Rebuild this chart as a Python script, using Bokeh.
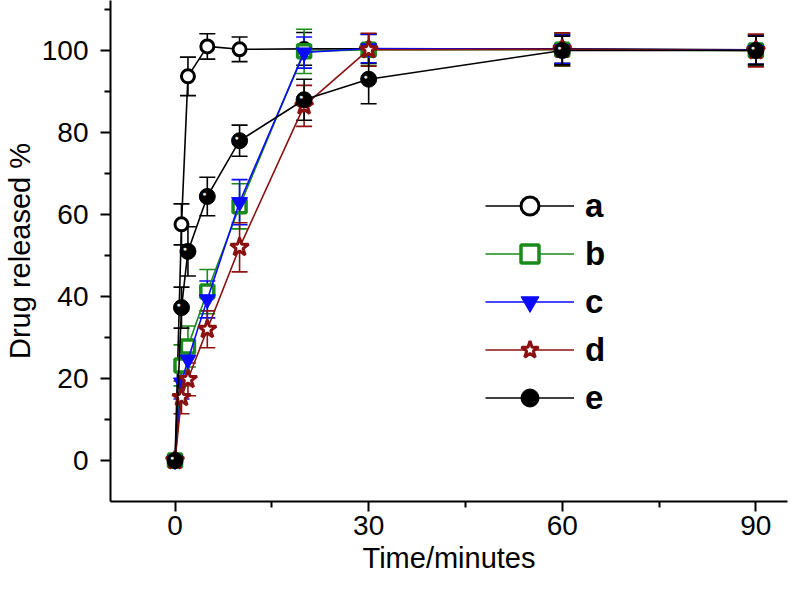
from bokeh.plotting import figure
from bokeh.models import (ColumnDataSource, Range1d, FixedTicker, Whisker, TeeHead,
                          Legend, LegendItem)
from bokeh.embed import file_html
from bokeh.resources import INLINE
from bokeh.core.properties import value

# ---- data ----
time_min = [0, 1, 2, 5, 10, 20, 30, 60, 90]
a_vals = [0, 57.6, 93.7, 101.0, 100.3, 100.4, 100.4, 100.4, 100.2]
a_err = [0, 5.0, 4.7, 3.1, 3.0, 4.0, 3.5, 3.5, 3.5]
b_vals = [0, 23.2, 27.8, 41.2, 62.0, 99.8, 100.2, 100.2, 100.0]
b_err = [0, 5.0, 5.0, 5.4, 5.5, 5.4, 3.8, 4.0, 3.8]
c_vals = [0, 19.0, 24.6, 39.3, 63.0, 99.5, 100.5, 100.3, 100.1]
c_err = [0, 4.0, 4.5, 4.5, 5.5, 3.8, 3.5, 3.5, 3.5]
d_vals = [0, 15.4, 19.8, 32.0, 52.0, 86.5, 100.2, 100.3, 100.0]
d_err = [0, 4.0, 4.0, 4.5, 6.0, 5.0, 4.0, 4.0, 4.0]
e_vals = [0, 37.3, 51.0, 64.4, 78.0, 88.0, 93.0, 100.0, 100.0]
e_err = [0, 5.0, 6.0, 4.7, 3.8, 5.0, 6.0, 3.5, 3.5]

x_ticks = [0, 30, 60, 90]
x_minor = [15, 45, 75]
y_ticks = [0, 20, 40, 60, 80, 100]
y_minor = [10, 30, 50, 70, 90, 110]

FONT = "Liberation Sans"

p = figure(width=790, height=584, output_backend="svg", toolbar_location=None,
           x_range=Range1d(-10, 94.9), y_range=Range1d(-10, 112.2),
           min_border_left=106, min_border_right=3, min_border_top=0,
           min_border_bottom=83)
p.outline_line_color = None
p.grid.visible = False
p.background_fill_color = "white"

for ax in (p.xaxis[0], p.yaxis[0]):
    ax.axis_line_width = 2
    ax.axis_line_color = "black"
    ax.major_tick_line_width = 2
    ax.minor_tick_line_width = 2
    ax.major_tick_in = 0
    ax.major_tick_out = 10
    ax.minor_tick_in = 0
    ax.minor_tick_out = 6
    ax.major_label_text_font = FONT
    ax.major_label_text_font_size = "28px"
    ax.major_label_text_color = "black"
    ax.axis_label_text_font = FONT
    ax.axis_label_text_font_size = "29px"
    ax.axis_label_text_font_style = "normal"
    ax.axis_label_text_color = "black"

p.xaxis.ticker = FixedTicker(ticks=x_ticks, minor_ticks=x_minor)
p.yaxis.ticker = FixedTicker(ticks=y_ticks, minor_ticks=y_minor)
p.xaxis.axis_label = "Time/minutes"
p.yaxis.axis_label = "Drug released %"
p.xaxis.major_label_standoff = 4
p.yaxis.major_label_standoff = 12
p.xaxis.axis_label_standoff = 4
p.yaxis.axis_label_standoff = 3

series = [
    ("a", a_vals, a_err, "black", "circle", "white", 13, 3.0),
    ("b", b_vals, b_err, "#1a8a1a", "square", "white", 13, 3.5),
    ("c", c_vals, c_err, "#0a0aff", "inverted_triangle", "#0a0aff", 16, 1.0),
    ("d", d_vals, d_err, "#8b1010", "star", "white", 19, 3.0),
    ("e", e_vals, e_err, "black", "circle", "black", 16, 1.0),
]

items = []
for name, vals, errs, col, mk, fill, size, lw in series:
    src = ColumnDataSource(dict(x=time_min, y=vals))
    keep = [i for i, e in enumerate(errs) if e > 0]
    err_src = ColumnDataSource(dict(
        x=[time_min[i] for i in keep],
        upper=[vals[i] + errs[i] for i in keep],
        lower=[vals[i] - errs[i] for i in keep]))
    ln = p.line("x", "y", source=src, line_color=col, line_width=1.6)
    w = Whisker(source=err_src, base="x", upper="upper", lower="lower",
                line_color=col, line_width=1.6,
                upper_head=TeeHead(size=16, line_color=col, line_width=1.6),
                lower_head=TeeHead(size=16, line_color=col, line_width=1.6))
    p.add_layout(w)
    sc = p.scatter("x", "y", source=src, marker=mk, size=size,
                   line_color=col, fill_color=fill, line_width=lw)
    if name == "e":
        p.text("x", "y", source=src, text=value("\u25cf"), text_color="#e6e6e6",
               text_font_size="7px", x_offset=-3, y_offset=-3,
               text_align="center", text_baseline="middle")
    items.append(LegendItem(label=name, renderers=[ln, sc]))

legend = Legend(items=items, location=(375, 81), orientation="vertical",
                glyph_width=89, glyph_height=45, label_height=45,
                label_standoff=11, spacing=3, padding=0, margin=0,
                border_line_color=None, background_fill_alpha=0,
                label_text_font=FONT, label_text_font_size="33px",
                label_text_font_style="bold", label_text_color="black",
                label_text_baseline="middle")
p.add_layout(legend, "center")

open("out.html", "w").write(file_html(p, INLINE))
